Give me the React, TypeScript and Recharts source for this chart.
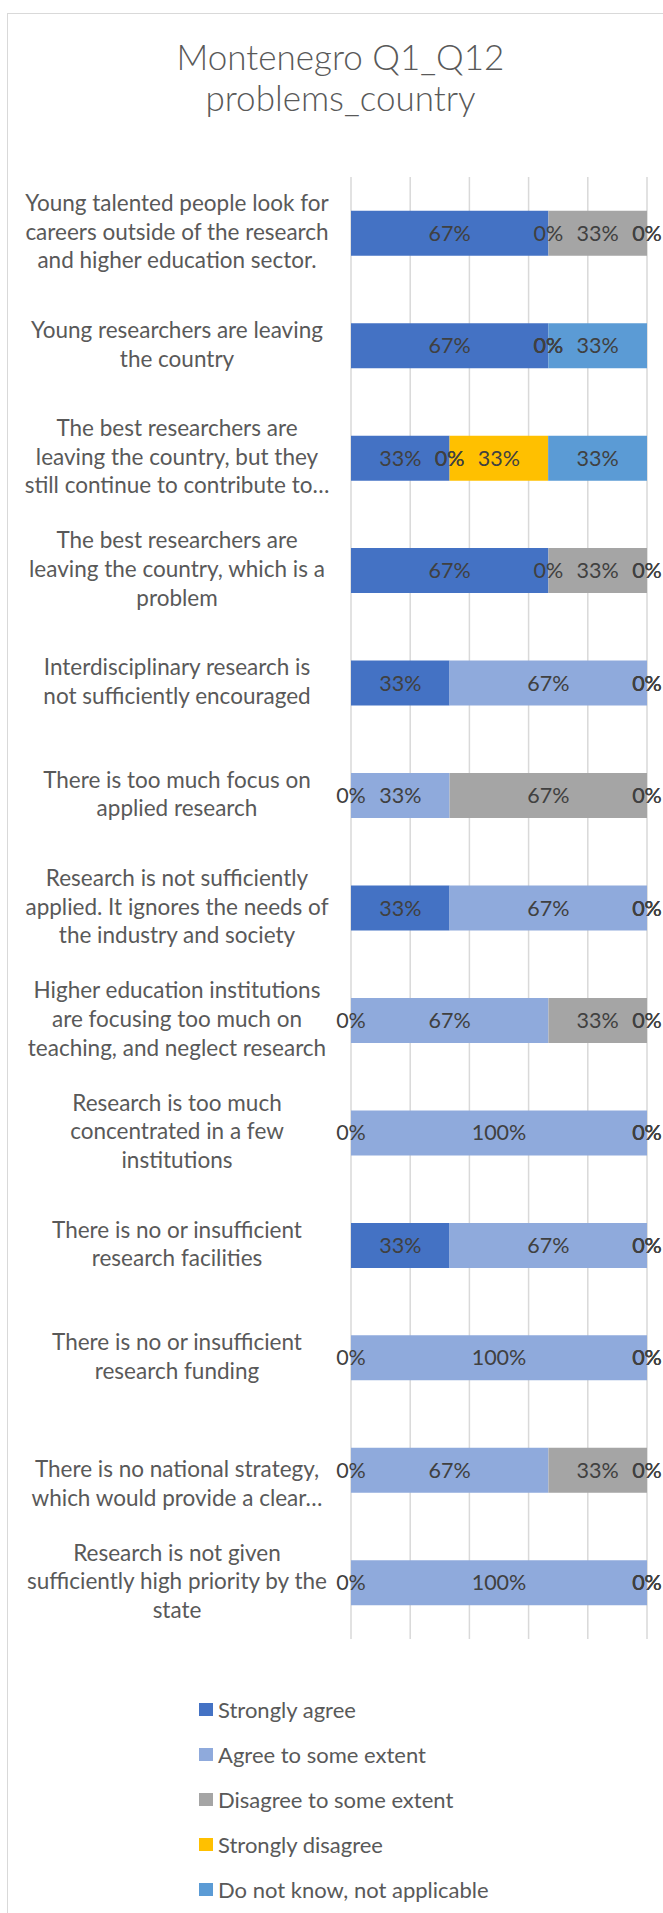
import { BarChart, Bar, XAxis, YAxis, CartesianGrid, LabelList } from "recharts";

// row 12 starts with an empty line: in the original the wrapped text sits one line low
const categories = [
  "Young talented people look for\ncareers outside of the research\nand higher education sector.",
  "Young researchers are leaving\nthe country",
  "The best researchers are\nleaving the country, but they\nstill continue to contribute to…",
  "The best researchers are\nleaving the country, which is a\nproblem",
  "Interdisciplinary research is\nnot sufficiently encouraged",
  "There is too much focus on\napplied research",
  "Research is not sufficiently\napplied. It ignores the needs of\nthe industry and society",
  "Higher education institutions\nare focusing too much on\nteaching, and neglect research",
  "Research is too much\nconcentrated in a few\ninstitutions",
  "There is no or insufficient\nresearch facilities",
  "There is no or insufficient\nresearch funding",
  "\nThere is no national strategy,\nwhich would provide a clear…",
  "Research is not given\nsufficiently high priority by the\nstate",
];

const stronglyAgree = [66.7, 66.7, 33.3, 66.7, 33.3, 0, 33.3, 0, 0, 33.3, 0, 0, 0];
const agreeSome = [0, 0, 0, 0, 66.7, 33.3, 66.7, 66.7, 100, 66.7, 100, 66.7, 100];
const disagreeSome = [33.3, 0, 0, 33.3, 0, 66.7, 0, 33.3, 0, 0, 0, 33.3, 0];
const stronglyDisagree = [0, 0, 33.3, 0, 0, 0, 0, 0, 0, 0, 0, 0, 0];
const dontKnow = [0, 33.3, 33.4, 0, 0, 0, 0, 0, 0, 0, 0, 0, 0];

const seriesNames = [
  "Strongly agree",
  "Agree to some extent",
  "Disagree to some extent",
  "Strongly disagree",
  "Do not know, not applicable",
];
const seriesColors = ["#4472C4", "#8FAADC", "#A5A5A5", "#FFC000", "#5B9BD5"];
const seriesValues = [stronglyAgree, agreeSome, disagreeSome, stronglyDisagree, dontKnow];

const xTicks = [0, 20, 40, 60, 80, 100];

const data = categories.map((name, i) => {
  const row: Record<string, string | number> = { name };
  seriesNames.forEach((s, k) => {
    row[s] = seriesValues[k][i];
  });
  return row;
});

const FONT = "Lato, 'Open Sans', sans-serif";

function CategoryTick(props: any) {
  const { x, y, payload } = props;
  const lines = String(payload.value).split("\n");
  const lh = 28.7;
  const cx = x - 166;
  return (
    <text x={cx} y={y} textAnchor="middle" fill="#595959" fontSize={22.5} fontFamily={FONT}>
      {lines.map((line, i) => (
        <tspan key={i} x={cx} y={y + 6.5 + (i - (lines.length - 1) / 2) * lh}>
          {line}
        </tspan>
      ))}
    </text>
  );
}

function ValueLabel(props: any) {
  const { x, y, width, height, value } = props;
  return (
    <text
      x={x + width / 2}
      y={y + height / 2 + 7.5}
      textAnchor="middle"
      fill="#404040"
      fontSize={21.5}
      fontFamily={FONT}
    >
      {`${Math.round(Number(value))}%`}
    </text>
  );
}

export default function App() {
  return (
    <div style={{ position: "absolute", top: 0, left: 0, width: 663, height: 1913, overflow: "hidden", background: "#fff" }}>
      <div
        style={{
          position: "absolute",
          left: 7,
          top: 13,
          width: 720,
          height: 2000,
          border: "1.5px solid #d9d9d9",
        }}
      />
      <div
        style={{
          position: "absolute",
          top: 35.5,
          left: 0,
          width: 681,
          textAlign: "center",
          fontFamily: FONT,
          fontWeight: 300,
          fontSize: 35,
          lineHeight: "41px",
          color: "#595959",
        }}
      >
        Montenegro Q1_Q12
        <br />
        problems_country
      </div>
      <div style={{ position: "absolute", top: 0, left: 0 }}>
        <BarChart
          width={663}
          height={1913}
          data={data}
          layout="vertical"
          margin={{ top: 177, right: 16, bottom: 274, left: 0 }}
          barCategoryGap="30%"
        >
          <CartesianGrid horizontal={false} stroke="#d9d9d9" strokeWidth={1.5} />
          <XAxis type="number" domain={[0, 100]} ticks={xTicks} hide />
          <YAxis
            type="category"
            dataKey="name"
            width={351}
            axisLine={false}
            tickLine={false}
            tick={<CategoryTick />}
            interval={0}
          />
          {seriesNames.map((s, k) => (
            <Bar
              key={s}
              dataKey={s}
              stackId="a"
              fill={seriesColors[k]}
              minPointSize={0.01}
              isAnimationActive={false}
            >
              <LabelList dataKey={s} content={<ValueLabel />} />
            </Bar>
          ))}
        </BarChart>
      </div>
      <div
        style={{
          position: "absolute",
          top: 1687,
          left: 199,
          fontFamily: FONT,
          fontSize: 22,
          color: "#595959",
        }}
      >
        {seriesNames.map((s, k) => (
          <div key={s} style={{ height: 45, display: "flex", alignItems: "center" }}>
            <span
              style={{ width: 14, height: 13, background: seriesColors[k], marginRight: 5, display: "inline-block" }}
            />
            <span>{s}</span>
          </div>
        ))}
      </div>
    </div>
  );
}
